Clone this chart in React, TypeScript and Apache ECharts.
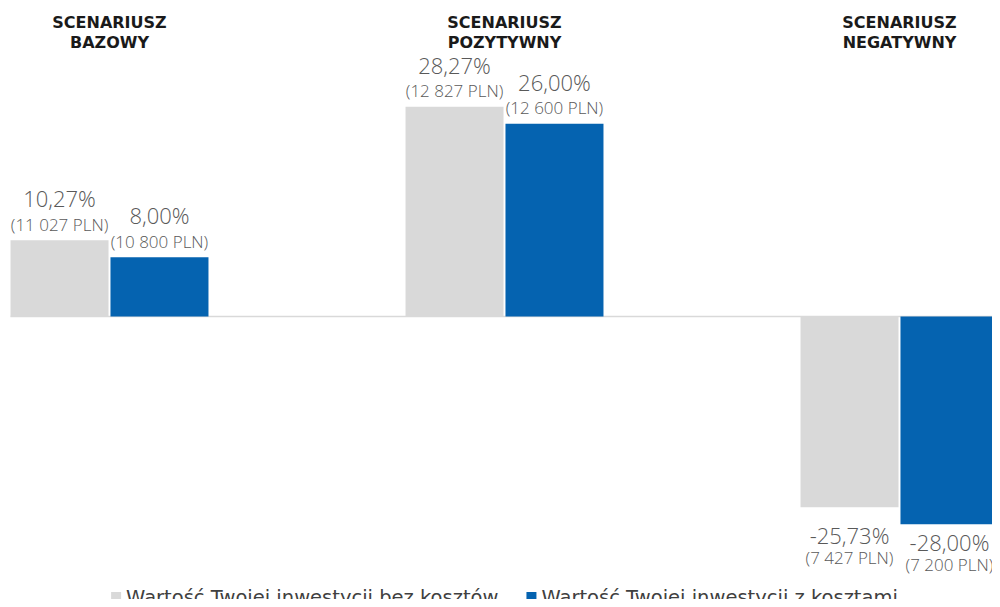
import React, { useEffect, useRef } from "react";
import * as echarts from "echarts";

const categories = ["SCENARIUSZ\nBAZOWY", "SCENARIUSZ\nPOZYTYWNY", "SCENARIUSZ\nNEGATYWNY"];
const seriesNames = ["Wartość Twojej inwestycji bez kosztów", "Wartość Twojej inwestycji z kosztami"];
const withoutCostsPct = [10.27, 28.27, -25.73];
const withCostsPct = [8.0, 26.0, -28.0];
const withoutCostsPln = [11027, 12827, 7427];
const withCostsPln = [10800, 12600, 7200];

const GRAY = "#d9d9d9";
const BLUE = "#0563b0";
const LABEL_COLOR = "#595959";
const FONT = "'Open Sans', 'Noto Sans', sans-serif";

const SHIFT = 88;
const CHART_W = 1185;

const fmtPct = (v: number) => v.toFixed(2).replace(".", ",") + "%";
const fmtPln = (v: number) => String(v).replace(/\B(?=(\d{3})+(?!\d))/g, " ");

function buildData(pcts: number[], plns: number[], negGap: number[]) {
  return pcts.map((v, i) => {
    const pos = v >= 0;
    return {
      value: v,
      label: {
        show: true,
        position: pos ? "top" : "bottom",
        distance: pos ? 4 : negGap[i],
        formatter: `{a|${fmtPct(v)}}\n{b|(${fmtPln(plns[i])} PLN)}`,
        rich: {
          a: {
            fontSize: 22,
            fontWeight: 300,
            fontFamily: FONT,
            color: LABEL_COLOR,
            lineHeight: pos ? 28 : 24,
          },
          b: {
            fontSize: 17,
            fontWeight: 300,
            fontFamily: FONT,
            color: LABEL_COLOR,
            lineHeight: pos ? 24 : 20,
          },
        },
      },
    };
  });
}

export default function App() {
  const ref = useRef<HTMLDivElement>(null);
  useEffect(() => {
    if (!ref.current) return;
    const chart = echarts.init(ref.current, undefined, { renderer: "svg" });
    chart.setOption({
      animation: false,
      backgroundColor: "#ffffff",
      grid: { left: 0, right: 0, top: 94, height: 445, containLabel: false },
      legend: {
        data: seriesNames,
        left: "center",
        top: 581,
        icon: "rect",
        itemWidth: 10,
        itemHeight: 10,
        itemGap: 28,
        textStyle: {
          fontSize: 19.5,
          fontFamily: "'DejaVu Sans', sans-serif",
          color: "#404040",
          lineHeight: 22,
        },
      },
      xAxis: [
        {
          type: "category",
          data: categories,
          position: "bottom",
          axisLine: { show: false },
          axisTick: { show: false },
          axisLabel: { show: false },
          splitLine: { show: false },
        },
        {
          type: "category",
          data: categories,
          position: "top",
          axisLine: { show: false },
          axisTick: { show: false },
          splitLine: { show: false },
          axisLabel: {
            margin: 42,
            fontSize: 16,
            fontWeight: "bold",
            lineHeight: 20,
            color: "#1a1a1a",
            fontFamily: "'DejaVu Sans', sans-serif",
          },
        },
      ],
      yAxis: { type: "value", min: -30, max: 30, show: false, splitLine: { show: false } },
      series: [
        {
          name: seriesNames[0],
          type: "bar",
          xAxisIndex: 0,
          barWidth: 98,
          barGap: "2%",
          itemStyle: { color: GRAY },
          data: buildData(withoutCostsPct, withoutCostsPln, [16, 16, 16]),
        },
        {
          name: seriesNames[1],
          type: "bar",
          xAxisIndex: 0,
          barWidth: 98,
          barGap: "2%",
          itemStyle: { color: BLUE },
          data: buildData(withCostsPct, withCostsPln, [6, 6, 6]),
        },
      ],
    });
    const y0 = chart.convertToPixel({ yAxisIndex: 0 }, 0) as number;
    const cx0 = chart.convertToPixel({ xAxisIndex: 0 }, 0) as number;
    chart.setOption({
      graphic: [
        {
          type: "line",
          z: 1,
          shape: { x1: cx0 - 99, y1: y0, x2: SHIFT + 1000, y2: y0 },
          style: { stroke: "#d9d9d9", lineWidth: 1.5 },
        },
      ],
    });
    return () => chart.dispose();
  }, []);
  return (
    <div style={{ width: 1000, height: 607, margin: -8, overflow: "hidden", position: "relative" }}>
      <div
        ref={ref}
        style={{ position: "absolute", left: -SHIFT, top: 0, width: CHART_W, height: 607 }}
      />
    </div>
  );
}
